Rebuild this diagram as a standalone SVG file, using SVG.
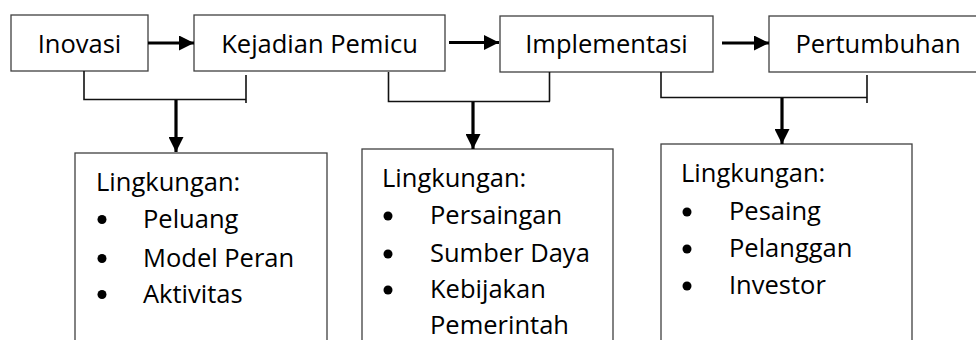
<svg xmlns="http://www.w3.org/2000/svg" width="976" height="340" viewBox="0 0 976 340">
<style>
.box{fill:#fff;stroke:#404040;stroke-width:1.3}
.t{font-family:"Open Sans","Liberation Sans",sans-serif;font-size:25.5px;fill:#000}
.c{text-anchor:middle}
.br{fill:none;stroke:#111;stroke-width:1.6}
.ar{fill:none;stroke:#000;stroke-width:3.2}
.bul{fill:#000}
</style>
<defs>
<marker id="ah" markerUnits="userSpaceOnUse" markerWidth="16" markerHeight="15" refX="15" refY="7.5" orient="auto">
<path d="M0,0 L15,7.5 L0,15 z" fill="#000"/>
</marker>
</defs>
<g id="n-inovasi"><rect class="box" x="11" y="15" width="137" height="56"/><text class="t c" x="79.5" y="53">Inovasi</text></g>
<g id="n-kejadian"><rect class="box" x="194" y="15" width="251" height="56"/><text class="t c" x="319.5" y="53">Kejadian Pemicu</text></g>
<g id="n-implementasi"><rect class="box" x="500" y="16" width="213" height="56"/><text class="t c" x="606.5" y="53">Implementasi</text></g>
<g id="n-pertumbuhan"><rect class="box" x="769" y="16" width="220" height="56"/><text class="t c" x="878" y="53">Pertumbuhan</text></g>
<g id="n-env1"><rect class="box" x="75" y="153" width="252" height="195"/>
<text class="t" x="96" y="191">Lingkungan:</text>
<circle class="bul" cx="102" cy="219.5" r="4.5"/><text class="t" x="143" y="228">Peluang</text>
<circle class="bul" cx="102" cy="258.5" r="4.5"/><text class="t" x="143" y="267">Model Peran</text>
<circle class="bul" cx="102" cy="294.5" r="4.5"/><text class="t" x="143" y="303">Aktivitas</text>
</g>
<g id="n-env2"><rect class="box" x="362" y="149" width="251" height="199"/>
<text class="t" x="382" y="187">Lingkungan:</text>
<circle class="bul" cx="388" cy="216" r="4.5"/><text class="t" x="430" y="224">Persaingan</text>
<circle class="bul" cx="388" cy="254" r="4.5"/><text class="t" x="430" y="262">Sumber Daya</text>
<circle class="bul" cx="388" cy="290" r="4.5"/><text class="t" x="430" y="298">Kebijakan</text>
<text class="t" x="430" y="334">Pemerintah</text>
</g>
<g id="n-env3"><rect class="box" x="661" y="144" width="251" height="204"/>
<text class="t" x="681" y="182">Lingkungan:</text>
<circle class="bul" cx="687" cy="212" r="4.5"/><text class="t" x="729" y="220">Pesaing</text>
<circle class="bul" cx="687" cy="249" r="4.5"/><text class="t" x="729" y="257">Pelanggan</text>
<circle class="bul" cx="687" cy="286" r="4.5"/><text class="t" x="729" y="294">Investor</text>
</g>
<g id="connectors">
<line class="ar" x1="148" y1="43" x2="194" y2="43" marker-end="url(#ah)"/>
<line class="ar" x1="449" y1="42.5" x2="499" y2="42.5" marker-end="url(#ah)"/>
<line class="ar" x1="722" y1="43" x2="769" y2="43" marker-end="url(#ah)"/>
<path class="br" d="M84,71 V99.5 H246 M246,75 V103"/>
<path class="br" d="M388.5,72 V101.5 H550 M549.5,72 V101.5"/>
<path class="br" d="M661,72 V97.5 H867 M867,75 V103"/>
<line class="ar" x1="176" y1="100" x2="176" y2="152" marker-end="url(#ah)"/>
<line class="ar" x1="473" y1="102" x2="473" y2="149" marker-end="url(#ah)"/>
<line class="ar" x1="782" y1="98" x2="782" y2="144" marker-end="url(#ah)"/>
</g>
</svg>
